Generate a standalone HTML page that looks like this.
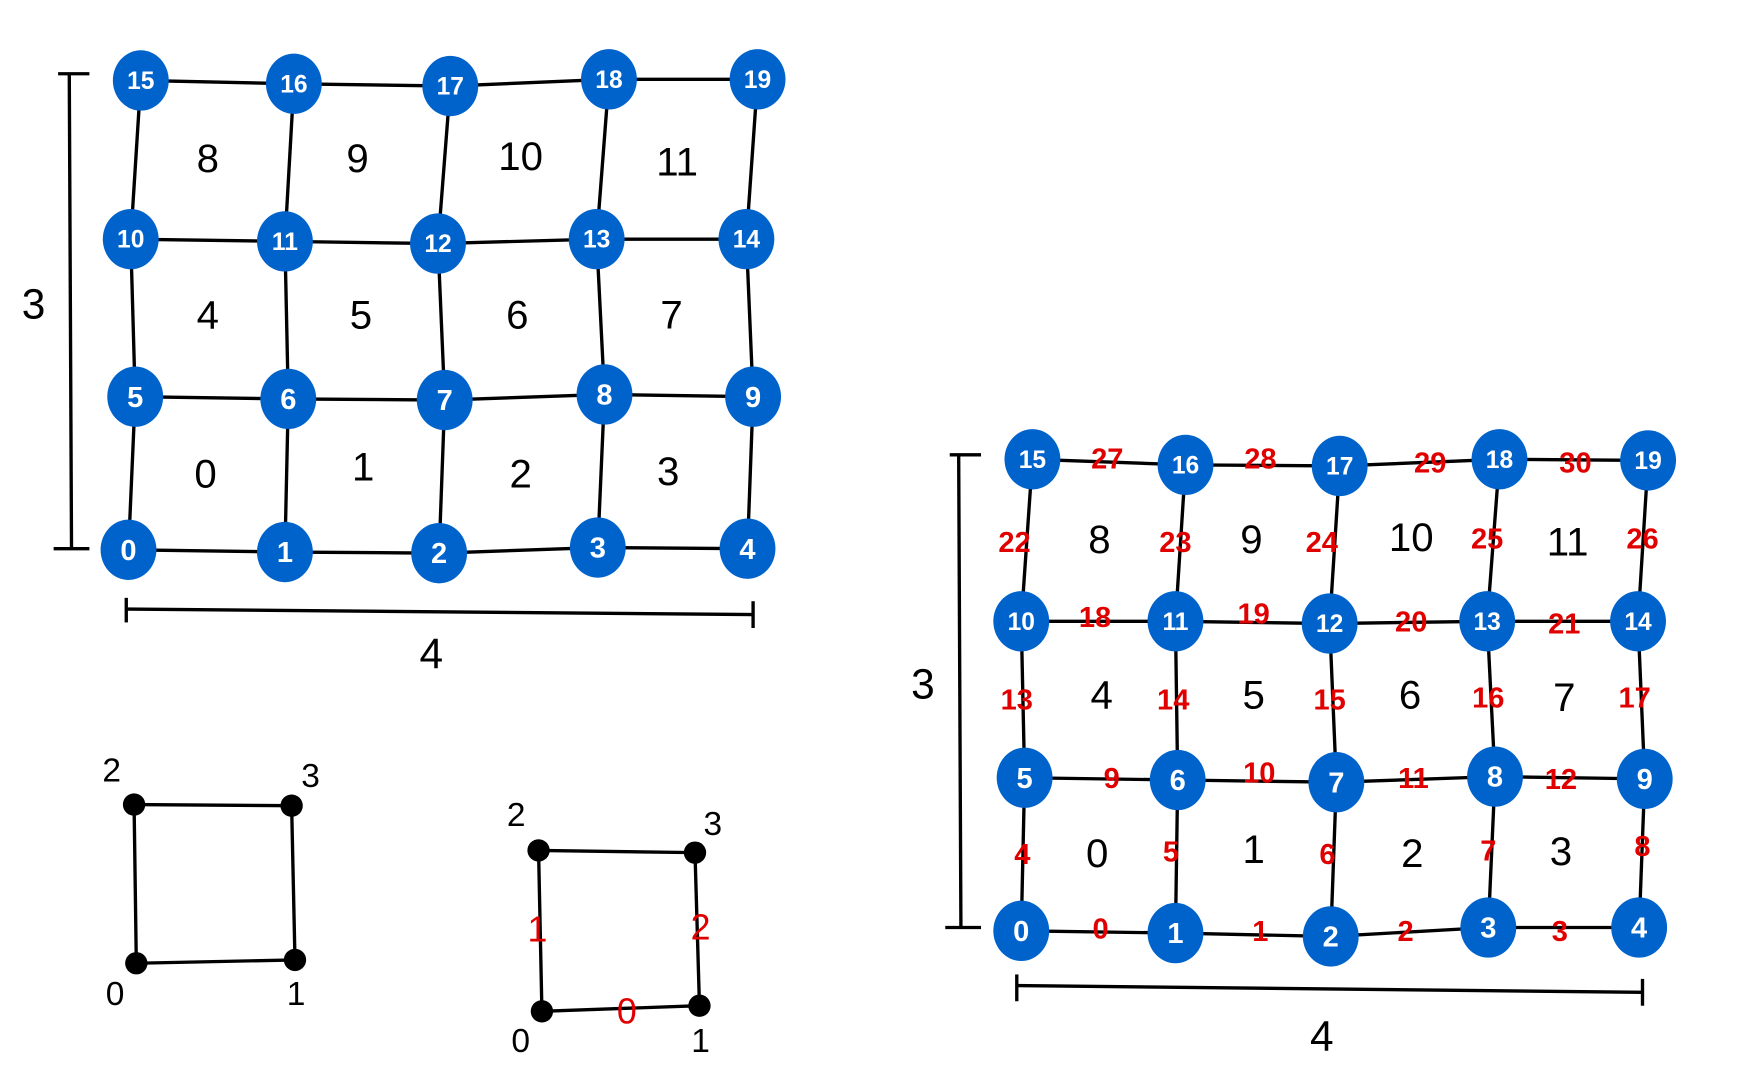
<!DOCTYPE html>
<html><head><meta charset="utf-8"><style>
html,body{margin:0;padding:0;background:#fff;}
svg{display:block;}
text{font-family:"Liberation Sans",sans-serif;}
</style></head><body>
<svg id="s" width="1752" height="1075" viewBox="0 0 1568 962" preserveAspectRatio="none">
<g id="lines"></g><g id="nodes"></g><g id="labels"></g>
</svg>
<script>
const NS="http://www.w3.org/2000/svg";
const leftNodes=[[115,492],[255,494],[393,495],[535,490],[669,491],[121,355],[258,357],[398,358],[541,353],[674,355],[117,214],[255,216],[392,218],[534,214],[668,214],[126,72],[263,75],[403,77],[545,71],[678,71]];
const rightNodes=[[914,833],[1052,835],[1191,838],[1332,830],[1467,830],[917,696],[1054,698],[1196,700],[1338,695],[1472,697],[914,556],[1052,556],[1190,558],[1331,556],[1466,556],[924,411],[1061,416],[1199,417],[1342,411],[1475,412]];
const leftCells=[[184,424],[325,418],[466,424],[598,422],[186,282],[323,282],[463,282],[601,282],[186,142],[320,142],[466,140],[606,145]];
const rightCells=[[982,764],[1122,760],[1264,764],[1397,762],[986,622],[1122,622],[1262,622],[1400,624],[984,483],[1120,483],[1263,481],[1403,485]];
const edgeLabels=[[985,832,"0"],[1128,834,"1"],[1258,834,"2"],[1396,834,"3"],[915,765,"4"],[1048,763,"5"],[1188,765,"6"],[1332,762,"7"],[1470,758,"8"],[995,697,"9"],[1127,692,"10"],[1265,697,"11"],[1397,698,"12"],[910,627,"13"],[1050,627,"14"],[1190,627,"15"],[1332,625,"16"],[1463,625,"17"],[980,553,"18"],[1122,550,"19"],[1263,557,"20"],[1400,559,"21"],[908,486,"22"],[1052,486,"23"],[1183,486,"24"],[1331,483,"25"],[1470,483,"26"],[991,411,"27"],[1128,411,"28"],[1280,415,"29"],[1410,415,"30"]];
const sq1=[[122,862],[264,859],[120,720],[261,721]];
const sq2=[[485,905],[626,900],[482,761],[622,763]];
const L=document.getElementById('lines'),N=document.getElementById('nodes'),T=document.getElementById('labels');
function line(x1,y1,x2,y2,w){const e=document.createElementNS(NS,'line');e.setAttribute('x1',x1);e.setAttribute('y1',y1);e.setAttribute('x2',x2);e.setAttribute('y2',y2);e.setAttribute('stroke','#000');e.setAttribute('stroke-width',w||3);


L.appendChild(e);}
function txt(x,y,s,fill,size,name,bold){const e=document.createElementNS(NS,'text');e.setAttribute('x',x);e.setAttribute('y',y);e.setAttribute('text-anchor','middle');e.setAttribute('dominant-baseline','central');e.setAttribute('fill',fill);e.setAttribute('font-size',size);if(bold)e.setAttribute('font-weight','bold');e.textContent=s;


T.appendChild(e);}
function grid(nodes,cells){
 for(let r=0;r<4;r++)for(let c=0;c<5;c++){const a=nodes[r*5+c];
  if(c<4){const b=nodes[r*5+c+1];line(a[0],a[1],b[0],b[1]);}
  if(r<3){const b=nodes[(r+1)*5+c];line(a[0],a[1],b[0],b[1]);}}
 nodes.forEach((p,i)=>{const e=document.createElementNS(NS,'ellipse');e.setAttribute('cx',p[0]);e.setAttribute('cy',p[1]);e.setAttribute('rx',25);e.setAttribute('ry',27);e.setAttribute('fill','#0063cc');
  
  
  N.appendChild(e);txt(p[0],p[1]+1,String(i),'#fff',i>9?22:26,'node-label',true);});
 cells.forEach((p,i)=>txt(p[0],p[1],String(i),'#000',36,'cell-label'));
}
grid(leftNodes,leftCells);grid(rightNodes,rightCells);
edgeLabels.forEach(e=>txt(e[0],e[1],e[2],'#e00000',26,'edge-label',true));
line(62,66,64,490);line(52,66,80,66);line(48,491,80,491);txt(30,272,'3','#000',38,'height-label');
line(113,545,674,550);line(113,535,113,557);line(674,538,674,562);txt(386,585,'4','#000',38,'width-label');
line(858,407,860,830);line(850,407,878,407);line(846,830,878,830);txt(826,612,'3','#000',38,'height-label');
line(910,882,1470,888);line(910,872,910,896);line(1470,876,1470,900);txt(1183,927,'4','#000',38,'width-label');
function square(pts,labs){[[0,1],[0,2],[1,3],[2,3]].forEach(([a,b])=>line(pts[a][0],pts[a][1],pts[b][0],pts[b][1]));
 pts.forEach(p=>{const e=document.createElementNS(NS,'circle');e.setAttribute('cx',p[0]);e.setAttribute('cy',p[1]);e.setAttribute('r',10);e.setAttribute('fill','#000');
 
 
 N.appendChild(e);});
 labs.forEach((p,i)=>txt(p[0],p[1],String(i),'#000',30,'vertex-label'));}
square(sq1,[[103,890],[265,890],[100,690],[278,695]]);
square(sq2,[[466,932],[627,932],[462,730],[638,738]]);
txt(561,905,'0','#e00000',32,'edge-label');txt(481,832,'1','#e00000',32,'edge-label');txt(627,830,'2','#e00000',32,'edge-label');
</script>
</body></html>
